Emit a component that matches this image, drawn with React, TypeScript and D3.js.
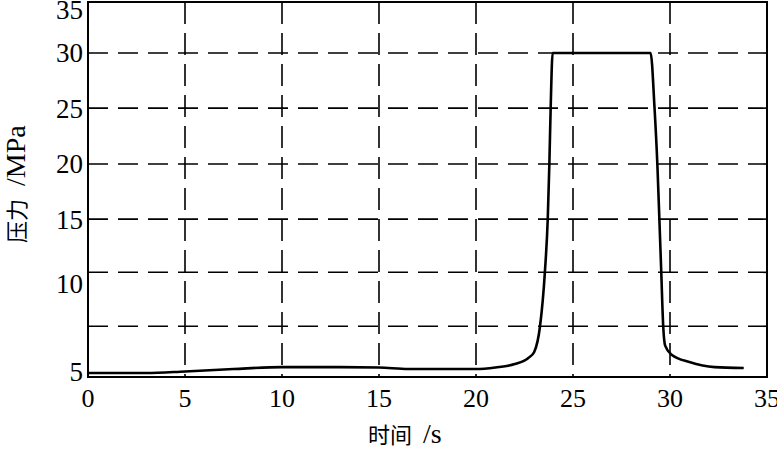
import React from "react";
import * as d3 from "d3";

// ---- data ----
const timeS = [0, 3, 5, 7.5, 10, 13, 15, 16.5, 20, 21, 22, 22.7, 23, 23.3, 23.55, 23.7, 23.78, 23.85, 23.95, 29.0, 29.2, 29.35, 29.45, 29.55, 29.65, 29.75, 30.1, 31, 32.3, 33.8];
const pressureMPa = [4.94, 4.94, 5.03, 5.17, 5.28, 5.28, 5.26, 5.17, 5.17, 5.26, 5.45, 5.8, 6.14, 7.6, 10.9, 15.1, 19.9, 25.1, 30, 30, 25.1, 19.9, 15.1, 10.9, 7.6, 6.5, 5.97, 5.57, 5.28, 5.23];

const xTicks = [0, 5, 10, 15, 20, 25, 30, 35];
const xGrid = [5, 10, 15, 20, 25, 30];
// labelled y values (the printed axis is non-uniform)
const yTicks = [5, 10, 15, 20, 25, 30, 35];
// horizontal dashed grid lines, in axis units
const yGrid = [7.6, 10.9, 15, 20, 25, 30];
const xTitleCJK = "时间";
const xTitleUnit = " /s";
const yTitleCJK = "压力";
const yTitleUnit = " /MPa";

const W = 777;
const H = 450;
const M = { left: 88, top: 2, right: 10, bottom: 73 };
const iw = W - M.left - M.right;
const ih = H - M.top - M.bottom;

// fractions (from bottom) of the plot height at which each printed label sits
const yLabelFrac = [0.0133, 0.248, 0.421, 0.568, 0.717, 0.864, 0.979];

export default function App() {
  const x = d3.scaleLinear().domain([0, 35]).range([0, iw]);
  const y = d3
    .scaleLinear()
    .domain(yTicks)
    .range(yLabelFrac.map((f) => ih * (1 - f)));

  const pts: [number, number][] = timeS.map((t, i) => [t, pressureMPa[i]]);
  const line = d3
    .line<[number, number]>()
    .x((d) => x(d[0]))
    .y((d) => y(d[1]))
    .curve(d3.curveMonotoneX);

  const serif = "'Liberation Serif', 'Times New Roman', serif";
  const cjk = "'Noto Sans CJK SC', sans-serif";

  return (
    <svg
      width={W}
      height={H}
      style={{ position: "absolute", left: 0, top: 0, background: "#fff" }}
    >
      <rect x={0} y={0} width={W} height={H} fill="#fff" />
      <g transform={`translate(${M.left},${M.top})`}>
        {yGrid.map((v) => (
          <line
            key={"hy" + v}
            x1={0}
            x2={iw}
            y1={y(v)}
            y2={y(v)}
            stroke="#000"
            strokeWidth={1.6}
            strokeDasharray="20,10"
          />
        ))}
        {xGrid.map((v) => (
          <line
            key={"vx" + v}
            x1={x(v)}
            x2={x(v)}
            y1={0}
            y2={ih}
            stroke="#000"
            strokeWidth={1.6}
            strokeDasharray="22,9"
          />
        ))}
        <path d={line(pts) || ""} fill="none" stroke="#000" strokeWidth={2.6} strokeLinejoin="round" />
        <rect x={0} y={0} width={iw} height={ih} fill="none" stroke="#000" strokeWidth={2} />
        {xTicks.map((v) => (
          <text
            key={"xt" + v}
            x={x(v)}
            y={ih + 30}
            textAnchor="middle"
            fontFamily={serif}
            fontSize={26}
            fill="#000"
          >
            {v}
          </text>
        ))}
        {yTicks.map((v) => (
          <text
            key={"yt" + v}
            x={-5}
            y={y(v)}
            dy="0.35em"
            textAnchor="end"
            fontFamily={serif}
            fontSize={27}
            fill="#000"
          >
            {v}
          </text>
        ))}
      </g>
      <text x={368} y={443} fill="#000">
        <tspan fontFamily={cjk} fontSize={22}>{xTitleCJK}</tspan>
        <tspan fontFamily={serif} fontSize={28} dx={4}>{xTitleUnit}</tspan>
      </text>
      <text transform="translate(25,243) rotate(-90)" fill="#000">
        <tspan fontFamily={cjk} fontSize={22}>{yTitleCJK}</tspan>
        <tspan fontFamily={serif} fontSize={28} dx={6}>{yTitleUnit}</tspan>
      </text>
    </svg>
  );
}
